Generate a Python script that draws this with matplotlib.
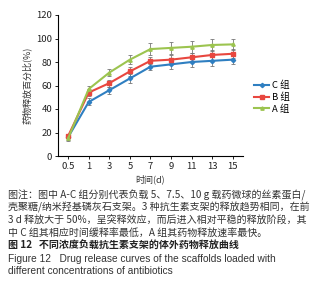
import matplotlib
matplotlib.use('Agg')
from matplotlib import pyplot as plt
import numpy as np

plt.rcParams['font.family'] = ['Noto Sans CJK SC', 'DejaVu Sans']

# release time (d), plotted as evenly spaced categories
days = ['0.5', '1', '3', '5', '7', '9', '11', '13', '15']

group_c = [16, 46, 56, 66, 76, 78, 80, 81, 82]
group_b = [17, 54, 62, 72, 81, 82, 84, 86, 87]
group_a = [15, 57, 71, 82, 91, 92, 93, 94.5, 95]

err_c = [2, 3, 3, 4, 3, 4, 4, 4, 4]
err_b = [2, 3, 3, 4, 3, 4, 4, 4, 4]
err_a = [2, 3, 3, 4, 5, 5, 5, 5, 5]

caption = [
    "图注：图中 A-C 组分别代表负载 5、7.5、10 g 载药微球的丝素蛋白/",
    "壳聚糖/纳米羟基磷灰石支架。3 种抗生素支架的释放趋势相同，在前",
    "3 d 释放大于 50%，呈突释效应，而后进入相对平稳的释放阶段，其",
    "中 C 组其相应时间缓释率最低，A 组其药物释放速率最快。",
]
title_cn = "图 12   不同浓度负载抗生素支架的体外药物释放曲线"
title_en = ["Figure 12   Drug release curves of the scaffolds loaded with",
            "different concentrations of antibiotics"]

fig = plt.figure(figsize=(3.25, 3.0), dpi=100)
ax = fig.add_axes([0.178, 0.48, 0.57, 0.47])

x = np.arange(len(days))
series = [
    (group_c, err_c, '#2f7fc1', 'D', 2.2, 'C 组'),
    (group_b, err_b, '#e8473f', 's', 3.0, 'B 组'),
    (group_a, err_a, '#9cc44f', '^', 2.4, 'A 组'),
]
handles = []
for y, e, col, mk, ms, lab in series:
    ax.errorbar(x, y, yerr=e, fmt='none', ecolor='#777777', elinewidth=0.6,
                capsize=1.5, capthick=0.6, zorder=1)
    h, = ax.plot(x, y, color=col, linewidth=1.5, marker=mk, markersize=ms,
                 label=lab, zorder=2)
    handles.append(h)

ax.set_xlim(-0.5, 8.5)
ax.set_ylim(0, 120)
ax.set_yticks(range(0, 121, 20))
ax.set_xticks(x)
ax.set_xticklabels(days)
ax.tick_params(labelsize=6.8, length=2, width=0.7, pad=2, colors='#222222')
for s in ['top', 'right']:
    ax.spines[s].set_visible(False)
for s in ['left', 'bottom']:
    ax.spines[s].set_linewidth(0.8)
ax.set_xlabel('时间(d)', fontsize=6.5, labelpad=3, color='#333333')
ax.set_ylabel('药物释放百分比(%)', fontsize=6.5, labelpad=3, color='#333333')

fig.legend(handles=handles, loc='upper left', bbox_to_anchor=(0.765, 0.75),
           frameon=False, fontsize=6.8, handlelength=1.6, handletextpad=0.3,
           labelspacing=0.25, borderpad=0.1)

y0 = 0.35
step = 0.0425
for i, line in enumerate(caption):
    fig.text(0.025, y0 - i * step, line, fontsize=7.2, color='#333333', va='center')
fig.text(0.025, y0 - 4 * step, title_cn, fontsize=7.2, color='#222222',
         va='center', fontweight='bold')
for i, line in enumerate(title_en):
    fig.text(0.025, y0 - (5 + i) * step, line, fontsize=7.3, color='#333333',
             va='center', family=['Liberation Sans', 'DejaVu Sans'])

fig.savefig('out.png', dpi=100)
